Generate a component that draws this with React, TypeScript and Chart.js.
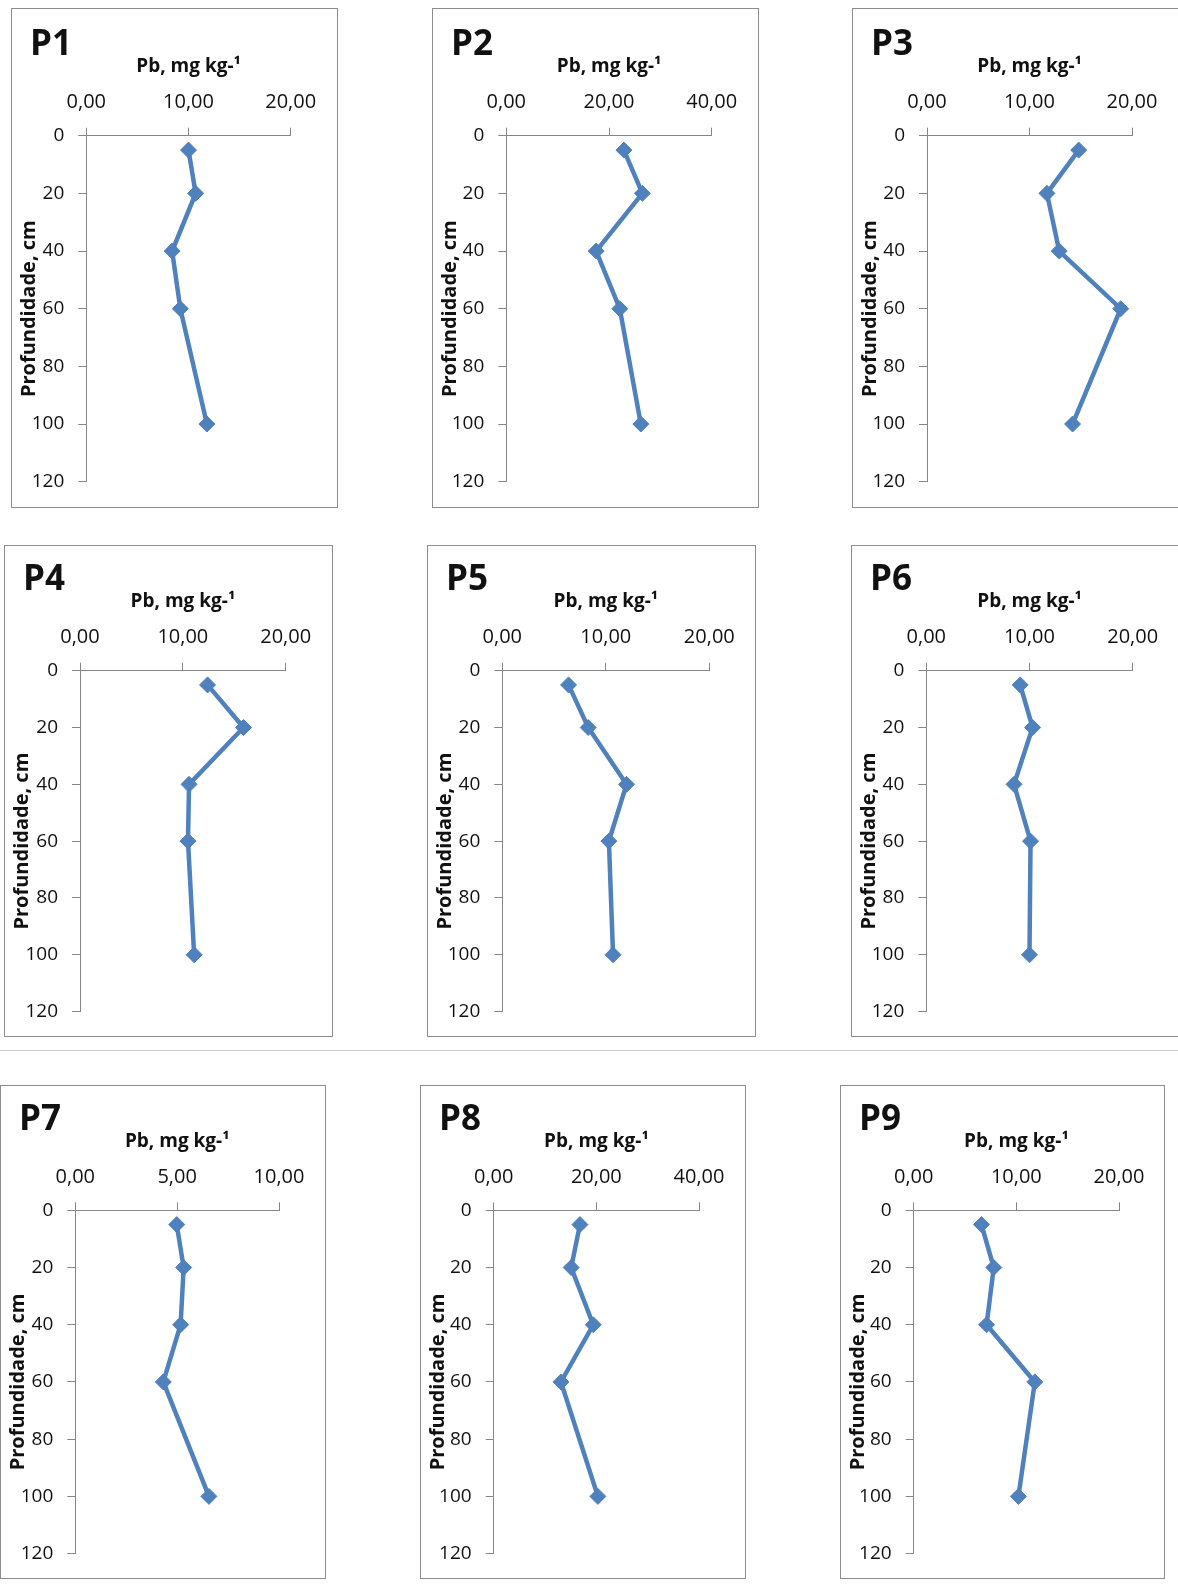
import { useEffect, useRef } from 'react';
import { Chart, registerables } from 'chart.js';

Chart.register(...registerables);

// Sampling depths (cm) shared by every soil profile
const depths = [5, 20, 40, 60, 100];

// Profile names
const profileNames = ['P1', 'P2', 'P3', 'P4', 'P5', 'P6', 'P7', 'P8', 'P9'];

// Pb content (mg kg-1) per profile, one value per depth
const pbP1 = [10.0, 10.7, 8.4, 9.2, 11.8];
const pbP2 = [22.9, 26.5, 17.5, 22.1, 26.2];
const pbP3 = [14.8, 11.7, 12.9, 18.9, 14.2];
const pbP4 = [12.4, 15.9, 10.6, 10.5, 11.1];
const pbP5 = [6.4, 8.3, 12.0, 10.3, 10.7];
const pbP6 = [9.1, 10.3, 8.5, 10.1, 10.0];
const pbP7 = [4.98, 5.32, 5.17, 4.32, 6.56];
const pbP8 = [16.8, 15.1, 19.4, 13.1, 20.3];
const pbP9 = [6.6, 7.8, 7.1, 11.8, 10.2];
const pbSeries = [pbP1, pbP2, pbP3, pbP4, pbP5, pbP6, pbP7, pbP8, pbP9];

// Upper limit of the Pb axis for each profile
const pbAxisMax = [20, 40, 20, 20, 20, 20, 10, 40, 20];

// Depth axis range and step
const depthMin = 0;
const depthMax = 120;
const depthStep = 20;

const pbTitle = 'Pb, mg kg-¹';
const depthTitle = 'Profundidade, cm';

// ---- layout (pixels) ----
const rowLayout = [
  { top: 8, height: 500, plotTop: 127.7, plotHeight: 346 },
  { top: 545, height: 492, plotTop: 125.7, plotHeight: 341 },
  { top: 1085, height: 494, plotTop: 125.3, plotHeight: 344.5 },
];
const panelLayout = [
  { left: 11, width: 327, plotLeft: 75.3, plotWidth: 204.4 },
  { left: 432, width: 327, plotLeft: 74.3, plotWidth: 205.4 },
  { left: 852, width: 327, plotLeft: 75, plotWidth: 205 },
  { left: 4, width: 329, plotLeft: 76, plotWidth: 205.7 },
  { left: 427, width: 329, plotLeft: 75.3, plotWidth: 207 },
  { left: 851, width: 329, plotLeft: 75.3, plotWidth: 206.4 },
  { left: 0, width: 326, plotLeft: 75.3, plotWidth: 203.7 },
  { left: 420, width: 326, plotLeft: 73.7, plotWidth: 205.3 },
  { left: 840, width: 325, plotLeft: 73.7, plotWidth: 205.3 },
];

const FONT = '"Open Sans", Lato, sans-serif';
const BLUE = '#4F81BD';
const AXIS = '#868686';
const TEXT = '#111111';
const X_TITLE_SIZE = 19;
const Y_TITLE_SIZE = 20;
const TICK_SIZE = 20;
const TICK_LEN = 8;

// distances above the plot's top edge
const TITLE_MID_GAP = 69;
const TICK_MID_GAP = 33.3;
const LABEL_BASE_GAP = 80.7;

const fmtPb = (v: number) => Number(v).toFixed(2).replace('.', ',');

// Draws the profile name in the top-left corner of each panel
const profileLabel = {
  id: 'profileLabel',
  afterDraw(chart: any, _args: any, opts: any) {
    const { ctx } = chart;
    ctx.save();
    ctx.font = `bold 35px ${FONT}`;
    ctx.fillStyle = TEXT;
    ctx.textAlign = 'left';
    ctx.textBaseline = 'alphabetic';
    ctx.fillText(opts.text, opts.x, opts.y);
    ctx.restore();
  },
};

function ProfilePanel({ index }: { index: number }) {
  const ref = useRef<HTMLCanvasElement>(null);
  const row = rowLayout[Math.floor(index / 3)];
  const box = panelLayout[index];

  useEffect(() => {
    const canvas = ref.current;
    if (!canvas) return;
    const values = pbSeries[index];
    const xMax = pbAxisMax[index];
    const xTitleLh = X_TITLE_SIZE * 1.2;
    const yTitleLh = Y_TITLE_SIZE * 1.2;
    const tickLh = TICK_SIZE * 1.2;
    const xAxisHeight = TITLE_MID_GAP + xTitleLh / 2;
    const tickPad = TICK_MID_GAP - TICK_LEN - tickLh / 2;

    const chart = new Chart(canvas, {
      type: 'scatter',
      data: {
        datasets: [
          {
            data: depths.map((d, i) => ({ x: values[i], y: d })),
            showLine: true,
            borderColor: BLUE,
            backgroundColor: BLUE,
            borderWidth: 4.5,
            pointStyle: 'rectRot',
            pointRadius: 8,
            pointBorderWidth: 1,
            pointBackgroundColor: BLUE,
            pointBorderColor: BLUE,
            tension: 0,
            clip: false,
          } as any,
        ],
      },
      options: {
        responsive: false,
        maintainAspectRatio: false,
        animation: false,
        events: [],
        layout: {
          padding: {
            top: row.plotTop - xAxisHeight,
            left: 0,
            right: box.width - box.plotLeft - box.plotWidth,
            bottom: row.height - row.plotTop - row.plotHeight,
          },
        },
        plugins: {
          legend: { display: false },
          tooltip: { enabled: false },
          profileLabel: { text: profileNames[index], x: 19, y: row.plotTop - LABEL_BASE_GAP },
        } as any,
        scales: {
          x: {
            type: 'linear',
            position: 'top',
            min: 0,
            max: xMax,
            ticks: {
              stepSize: xMax / 2,
              padding: tickPad,
              color: TEXT,
              font: { family: FONT, size: TICK_SIZE },
              callback: (v: any) => fmtPb(v),
            },
            grid: { drawOnChartArea: false, drawTicks: true, tickLength: TICK_LEN, color: AXIS, lineWidth: 1 },
            border: { display: true, color: AXIS, width: 1 },
            title: {
              display: true,
              text: pbTitle,
              color: TEXT,
              font: { family: FONT, size: X_TITLE_SIZE, weight: 'bold' },
              padding: { top: 0, bottom: 0 },
            },
            afterFit: (s: any) => {
              s.height = xAxisHeight;
            },
          },
          y: {
            type: 'linear',
            reverse: true,
            min: depthMin,
            max: depthMax,
            ticks: {
              stepSize: depthStep,
              padding: 14,
              color: TEXT,
              font: { family: FONT, size: 19 },
            },
            grid: { drawOnChartArea: false, drawTicks: true, tickLength: TICK_LEN, color: AXIS, lineWidth: 1 },
            border: { display: true, color: AXIS, width: 1 },
            title: {
              display: true,
              text: depthTitle,
              color: TEXT,
              font: { family: FONT, size: Y_TITLE_SIZE, weight: 'bold' },
              padding: { top: 18.5 - yTitleLh / 2, bottom: 0 },
            },
            afterFit: (s: any) => {
              s.width = box.plotLeft;
            },
          },
        },
      } as any,
      plugins: [profileLabel],
    });
    return () => chart.destroy();
  }, [index]);

  return (
    <div
      style={{
        position: 'absolute',
        left: box.left,
        top: row.top,
        width: box.width,
        height: row.height,
        border: '1px solid #8c8c8c',
        boxSizing: 'border-box',
        background: '#fff',
      }}
    >
      <canvas
        ref={ref}
        width={box.width}
        height={row.height}
        style={{ position: 'absolute', left: -1, top: -1, width: box.width, height: row.height }}
      />
    </div>
  );
}

export default function App() {
  return (
    <div
      style={{
        position: 'absolute',
        left: 0,
        top: 0,
        width: 1178,
        height: 1584,
        overflow: 'hidden',
        background: '#fff',
      }}
    >
      {profileNames.map((_, i) => (
        <ProfilePanel key={i} index={i} />
      ))}
      <div
        style={{
          position: 'absolute',
          left: 0,
          top: 1050,
          width: 1178,
          height: 1,
          background: '#d2d2d2',
        }}
      />
    </div>
  );
}
